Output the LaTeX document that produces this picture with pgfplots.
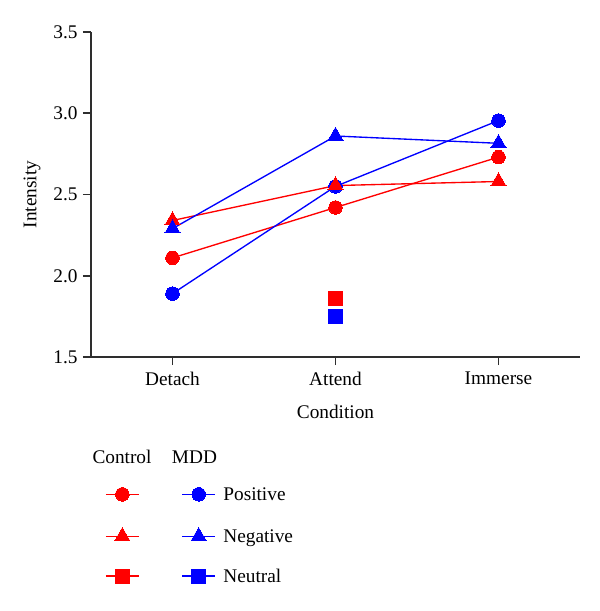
\documentclass[border=0pt]{standalone}
\usepackage{pgfplots}
\pgfplotsset{compat=1.18}
\usepackage{fontspec}
\setmainfont{Liberation Serif}
\definecolor{axgray}{HTML}{2E2E2E}
\newcommand{\F}{\fontsize{19.3bp}{23bp}\selectfont}
\begin{document}
\begin{tikzpicture}[font=\F]
\useasboundingbox (-91bp,-254bp) rectangle (509bp,357bp);
\begin{axis}[
  at={(0bp,0bp)}, anchor=south west,
  scale only axis, width=489bp, height=325bp,
  xmin=-0.5, xmax=2.5, ymin=1.5, ymax=3.5,
  xtick={0,1,2}, xticklabels={Detach,Attend,Immerse},
  ytick={1.5,2,2.5,3,3.5},
  /pgf/number format/assume math mode=true,
  yticklabel style={/pgf/number format/.cd, fixed, fixed zerofill, precision=1, /tikz/.cd, xshift=-2bp},
  xticklabel style={yshift=-3.5bp},
  axis lines*=left,
  axis line style={line width=1.9bp, color=axgray},
  tick style={line width=1.9bp, color=axgray},
  tick align=outside, major tick length=8bp,
  tick label style={font=\F},
  label style={font=\F},
  xlabel={Condition}, ylabel={Intensity},
  every axis x label/.style={at={(axis description cs:0.5,-0.168)}, anchor=center},
  every axis y label/.style={at={(axis description cs:-0.1207,0.5)}, rotate=90, anchor=center},
  legend columns=2,
  legend cell align=left,
  legend image code/.code={\draw[mark repeat=2,mark phase=2] plot coordinates {(0bp,0bp) (16.5bp,0bp) (33bp,0bp)};},
  legend style={draw=none, fill=none, font=\F,
    at={(axis description cs:0.0286,-0.401)}, anchor=north west,
    inner sep=0pt, row sep=26.5bp,
    nodes={inner sep=0bp, text height=12.6bp, text depth=0bp},
    /tikz/column 2/.style={column sep=41bp},
    /tikz/column 3/.style={column sep=7.5bp}},
  every axis plot/.append style={line width=1.35bp},
]
% Control Positive
\addplot[color=red, mark=*, mark size=6.8bp, mark options={solid, fill=red, draw=red, line width=0pt}]
  coordinates {(0,2.11) (1,2.42) (2,2.73)};
\addlegendentry{\mbox{}}
% MDD Positive
\addplot[color=blue, mark=*, mark size=6.8bp, mark options={solid, fill=blue, draw=blue, line width=0pt}]
  coordinates {(0,1.89) (1,2.55) (2,2.955)};
\addlegendentry{Positive}
% Control Negative
\addplot[color=red, mark=triangle*, mark size=8.7bp, mark options={solid, fill=red, draw=red, line width=0pt}]
  coordinates {(0,2.34) (1,2.555) (2,2.58)};
\addlegendentry{\mbox{}}
% MDD Negative
\addplot[color=blue, mark=triangle*, mark size=8.7bp, mark options={solid, fill=blue, draw=blue, line width=0pt}]
  coordinates {(0,2.29) (1,2.86) (2,2.815)};
\addlegendentry{Negative}
% Control Neutral
\addplot[color=red, mark=square*, mark size=7bp, mark options={solid, fill=red, draw=red, line width=0pt}]
  coordinates {(1,1.857)};
\addlegendentry{\mbox{}}
% MDD Neutral
\addplot[color=blue, mark=square*, mark size=7bp, mark options={solid, fill=blue, draw=blue, line width=0pt}]
  coordinates {(1,1.75)};
\addlegendentry{Neutral}
\end{axis}
\node[anchor=base] at (31bp,-106bp) {Control};
\node[anchor=base] at (103.5bp,-106bp) {MDD};
\end{tikzpicture}
\end{document}
